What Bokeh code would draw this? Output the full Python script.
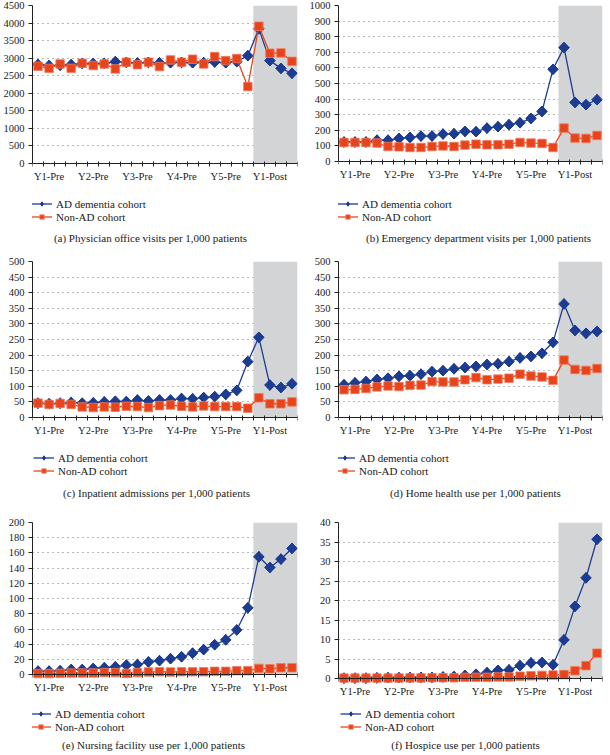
import numpy as np
from bokeh.plotting import figure
from bokeh.layouts import gridplot
from bokeh.models import (FixedTicker, BoxAnnotation, Legend, LegendItem, Label,
                          Range1d)
from bokeh.embed import file_html
from bokeh.resources import INLINE

# ---------------- data ----------------
year_labels = ["Y1-Pre", "Y2-Pre", "Y3-Pre", "Y4-Pre", "Y5-Pre", "Y1-Post"]
quarters_per_year = 4
series_names = ["AD dementia cohort", "Non-AD cohort"]

a_ad = [2820, 2790, 2800, 2815, 2850, 2850, 2850, 2900, 2880, 2865, 2880, 2870,
        2870, 2880, 2870, 2875, 2890, 2870, 2900, 3070, 3835, 2930, 2710, 2570]
a_non = [2770, 2710, 2835, 2710, 2855, 2790, 2835, 2695, 2885, 2815, 2885, 2760,
         2950, 2885, 2970, 2835, 3045, 2930, 2990, 2190, 3910, 3140, 3150, 2910]

b_ad = [125, 125, 125, 137, 137, 148, 154, 163, 163, 176, 178, 193,
        191, 214, 223, 236, 248, 276, 321, 591, 730, 379, 364, 396]
b_non = [122, 122, 122, 118, 96, 94, 90, 90, 96, 100, 96, 105,
         111, 107, 107, 111, 122, 118, 116, 90, 214, 150, 148, 167]

c_ad = [46, 44, 46, 48, 46, 47, 50, 52, 51, 56, 53, 56,
        56, 61, 60, 64, 67, 74, 87, 179, 257, 104, 96, 108]
c_non = [46, 42, 45, 42, 34, 32, 34, 33, 36, 35, 32, 38,
         40, 36, 34, 37, 35, 35, 35, 30, 63, 44, 44, 50]

d_ad = [105, 111, 115, 122, 126, 132, 134, 139, 147, 150, 156, 160,
        164, 170, 172, 179, 191, 196, 206, 241, 364, 279, 270, 276]
d_non = [89, 90, 93, 98, 101, 99, 103, 104, 115, 114, 114, 121,
         128, 121, 123, 126, 139, 133, 130, 119, 184, 154, 151, 157]

e_ad = [5, 5, 5.5, 7, 7, 8.5, 9.4, 10.6, 12.8, 13.6, 17, 18.7,
        21.3, 23.8, 28.5, 33.2, 39.6, 46, 59, 88, 155, 141, 152, 166]
e_non = [1.7, 1.7, 2.1, 2.5, 2.5, 2.5, 3, 3, 2, 3, 3.8, 4.2,
         3.8, 4.2, 4.2, 4.2, 4.7, 4.7, 5.5, 5.5, 8.5, 8, 9.4, 9.4]

f_ad = [0.1, 0.1, 0.1, 0.15, 0.2, 0.2, 0.25, 0.3, 0.3, 0.4, 0.5, 0.8,
        1.1, 1.5, 2.1, 2.2, 3.3, 4.0, 4.1, 3.5, 9.9, 18.5, 25.8, 35.7]
f_non = [0.1, 0.1, 0.1, 0.1, 0.1, 0.1, 0.15, 0.15, 0.2, 0.2, 0.2, 0.3,
         0.3, 0.3, 0.4, 0.4, 0.6, 0.7, 0.8, 0.9, 1.0, 2.0, 3.3, 6.5]

y_max = {"a": 4500, "b": 1000, "c": 500, "d": 500, "e": 200, "f": 40}
y_step = {"a": 500, "b": 100, "c": 50, "d": 50, "e": 20, "f": 5}
captions = {
    "a": "(a) Physician office visits per 1,000 patients",
    "b": "(b) Emergency department visits per 1,000 patients",
    "c": "(c) Inpatient admissions per 1,000 patients",
    "d": "(d) Home health use per 1,000 patients",
    "e": "(e) Nursing facility use per 1,000 patients",
    "f": "(f) Hospice use per 1,000 patients",
}
values = {"a": (a_ad, a_non), "b": (b_ad, b_non), "c": (c_ad, c_non),
          "d": (d_ad, d_non), "e": (e_ad, e_non), "f": (f_ad, f_non)}

# ---------------- style / layout ----------------
FONT = "Liberation Serif"
BLUE = "#1c3c92"
RED = "#e8441c"
SHADE = "#d3d4d6"

# per panel (page pixels): figure box, min borders, zero line,
# legend glyph left x (page) / legend bottom (page), caption centre (page)
layout = {
    "a": dict(fx=0,   fy=0,   w=305, h=256, l=30, r=8, t=5,  zero=163, leg_x=29,  leg_b=222.5, cap=(148, 237)),
    "b": dict(fx=305, fy=0,   w=303, h=256, l=33, r=0, t=5,  zero=161, leg_x=337, leg_b=222.5, cap=(478, 237)),
    "c": dict(fx=0,   fy=256, w=305, h=246, l=28, r=6, t=5,  zero=417, leg_x=29,  leg_b=476.5, cap=(152, 492)),
    "d": dict(fx=305, fy=256, w=303, h=246, l=32, r=4, t=5,  zero=417, leg_x=333, leg_b=476.5, cap=(474, 492)),
    "e": dict(fx=0,   fy=502, w=305, h=252, l=31, r=7, t=13, zero=672, leg_x=29,  leg_b=732.5, cap=(152, 744)),
    "f": dict(fx=305, fy=502, w=303, h=252, l=23, r=6, t=20, zero=678, leg_x=330, leg_b=732.5, cap=(455, 744)),
}

n = len(year_labels) * quarters_per_year
x = np.arange(n)
label_ticks = [i * quarters_per_year + 1 for i in range(len(year_labels))]
boundary_ticks = [i - 0.5 for i in range(n + 1)]
post_start = year_labels.index("Y1-Post") * quarters_per_year - 0.5


def make_panel(key):
    L = layout[key]
    ad, non = values[key]
    ymax = y_max[key]
    frame_top = L["fy"] + L["t"]
    frame_bottom = L["fy"] + L["h"]
    frame_left = L["fx"] + L["l"]
    data_px = L["zero"] - frame_top
    extra_px = frame_bottom - L["zero"]
    ymin = -ymax * extra_px / data_px

    p = figure(width=L["w"], height=L["h"], output_backend="svg", toolbar_location=None,
               x_range=Range1d(-0.5, n - 0.5), y_range=Range1d(ymin, ymax),
               min_border_left=L["l"], min_border_right=L["r"],
               min_border_top=L["t"], min_border_bottom=0)
    p.outline_line_color = None
    p.background_fill_color = "white"
    p.border_fill_color = "white"

    # grid
    p.xgrid.visible = False
    p.ygrid.grid_line_color = "#6f6f6f"
    p.ygrid.grid_line_dash = "1 4"
    p.ygrid.grid_line_width = 1

    # shaded post period
    box = BoxAnnotation(left=post_start, bottom=0, fill_color=SHADE, fill_alpha=1.0,
                        line_alpha=0, level="underlay")
    p.add_layout(box)

    # axes
    yt = list(range(0, ymax + y_step[key], y_step[key]))
    p.yaxis.ticker = FixedTicker(ticks=yt)
    p.yaxis.bounds = (0, ymax)
    p.yaxis.major_tick_out = 4
    p.yaxis.major_tick_in = 0
    p.yaxis.major_label_standoff = 4
    p.xaxis.fixed_location = 0
    p.xaxis.ticker = FixedTicker(ticks=label_ticks, minor_ticks=boundary_ticks)
    p.xaxis.major_label_overrides = {t: lab for t, lab in zip(label_ticks, year_labels)}
    p.xaxis.major_tick_out = 0
    p.xaxis.major_tick_in = 0
    p.xaxis.minor_tick_out = 3
    p.xaxis.minor_tick_in = 2
    p.xaxis.major_label_standoff = 4
    for ax in (p.xaxis, p.yaxis):
        ax.axis_line_color = "#222222"
        ax.major_tick_line_color = "#222222"
        ax.minor_tick_line_color = "#222222"
        ax.major_label_text_font = FONT
        ax.major_label_text_font_size = "10.5px"
        ax.major_label_text_color = "#1a1a1a"
    p.yaxis.minor_tick_line_color = None

    # series
    l_ad = p.line(x, ad, line_color=BLUE, line_width=1.3)
    # diamond used as the legend swatch (sits inside the rotated square below)
    d_ad = p.scatter(x, ad, marker="diamond", size=10.5, fill_color=BLUE, line_color=BLUE)
    s_ad = p.scatter(x, ad, marker="square", angle=np.pi / 4, size=7.5,
                     fill_color=BLUE, line_color=BLUE)
    l_non = p.line(x, non, line_color=RED, line_width=1.3)
    s_non = p.scatter(x, non, marker="square", size=8.5, fill_color=RED,
                      line_color="#f27a5c", line_width=0.8)

    legend = Legend(items=[LegendItem(label=series_names[0], renderers=[l_ad, d_ad]),
                           LegendItem(label=series_names[1], renderers=[l_non, s_non])],
                    location=(L["leg_x"] - frame_left, frame_bottom - L["leg_b"]),
                    orientation="vertical",
                    padding=0, margin=0, spacing=1,
                    glyph_width=21, glyph_height=11, label_height=11,
                    label_standoff=4, label_text_font=FONT,
                    label_text_font_size="11px", label_text_color="#1a1a1a",
                    border_line_alpha=0, background_fill_alpha=0)
    p.add_layout(legend)

    cap = Label(x=L["cap"][0] - frame_left, y=frame_bottom - L["cap"][1],
                x_units="screen", y_units="screen",
                text=captions[key], text_align="center", text_baseline="middle",
                text_font=FONT, text_font_size="11px", text_color="#1a1a1a")
    p.add_layout(cap)
    return p


panels = [[make_panel("a"), make_panel("b")],
          [make_panel("c"), make_panel("d")],
          [make_panel("e"), make_panel("f")]]
grid = gridplot(panels, toolbar_location=None)

open("out.html", "w").write(file_html(grid, INLINE))
